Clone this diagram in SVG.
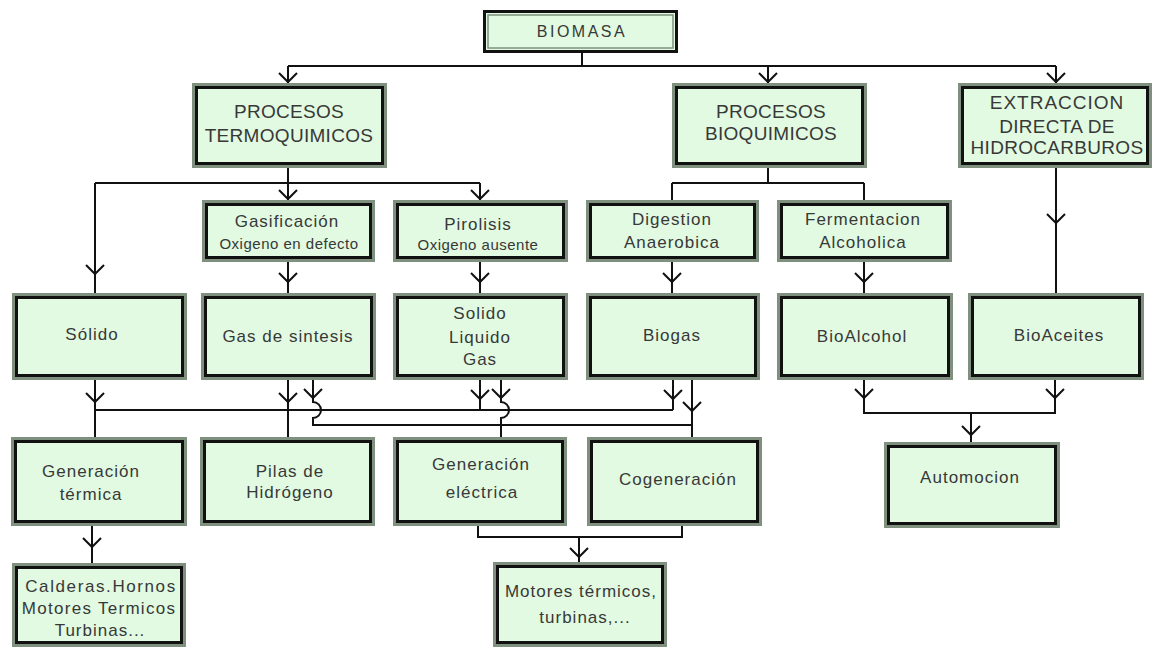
<svg xmlns="http://www.w3.org/2000/svg" width="1153" height="648" viewBox="0 0 1153 648">
<style>
  .bg{fill:#ffffff}
  .o{fill:#e1fae1;stroke:#7f907f;stroke-width:3}
  .i{fill:none;stroke:#111;stroke-width:3}
  .ob{fill:#e1fae1;stroke:#111;stroke-width:3}
  .ig{fill:none;stroke:#7f907f;stroke-width:1.5}
  text{font-family:"Liberation Sans",Arial,sans-serif;fill:#383838;text-anchor:middle}
  .t19{font-size:19px;letter-spacing:0.3px}
  .t16{font-size:16px;letter-spacing:2.5px}
  .t17{font-size:17px;letter-spacing:1px}
  .t15{font-size:15px;letter-spacing:0.5px}
  .c{fill:none;stroke:#111;stroke-width:2}
</style>
<defs>
  <path id="ah" d="M-9,-9 L0,0 L9,-9" fill="none" stroke="#111" stroke-width="2"/>
</defs>
<rect class="bg" x="0" y="0" width="1153" height="648"/>

<g id="connectors">
  <path class="c" d="M582,53 V66 M288,66 H1056 M288,66 V83 M768,66 V83 M1056,66 V83"/>
  <use href="#ah" x="288" y="82"/>
  <use href="#ah" x="768" y="82"/>
  <use href="#ah" x="1056" y="82"/>
  <path class="c" d="M288,168 V200 M95,183 H480 M95,183 V293 M480,183 V200"/>
  <use href="#ah" x="95" y="274"/>
  <use href="#ah" x="288" y="199"/>
  <use href="#ah" x="480" y="199"/>
  <path class="c" d="M768,168 V183 M672,183 H864 M672,183 V200 M864,183 V200"/>
  <path class="c" d="M1056,168 V293"/>
  <use href="#ah" x="1056" y="223"/>
  <path class="c" d="M288,262 V293 M480,262 V293 M672,262 V293 M864,262 V293"/>
  <use href="#ah" x="288" y="282"/>
  <use href="#ah" x="480" y="282"/>
  <use href="#ah" x="672" y="282"/>
  <use href="#ah" x="864" y="282"/>
  <path class="c" d="M95,380 V437 M95,410 H673 M288,380 V437 M480,380 V410 M673,380 V410"/>
  <use href="#ah" x="95" y="402"/>
  <use href="#ah" x="288" y="402"/>
  <use href="#ah" x="480" y="399"/>
  <use href="#ah" x="673" y="399"/>
  <path class="c" d="M313,380 V402 A8,8 0 0 1 313,418 V425 H692"/>
  <path class="c" d="M501,380 V402 A8,8 0 0 1 501,418 V437"/>
  <path class="c" d="M692,380 V437"/>
  <use href="#ah" x="313" y="398"/>
  <use href="#ah" x="501" y="398"/>
  <use href="#ah" x="692" y="411"/>
  <path class="c" d="M864,380 V413 H1055 V380 M971,413 V442"/>
  <use href="#ah" x="864" y="398"/>
  <use href="#ah" x="1055" y="398"/>
  <use href="#ah" x="971" y="435"/>
  <path class="c" d="M92,526 V563"/>
  <use href="#ah" x="92" y="547"/>
  <path class="c" d="M478,526 V537 H682 V526 M579,537 V562"/>
  <use href="#ah" x="579" y="557"/>
</g>

<g id="n-biomasa">
  <rect class="ob" x="484.5" y="11.5" width="192" height="40"/>
  <rect class="ig" x="488" y="15" width="185" height="33"/>
  <text class="t16" x="582" y="37">BIOMASA</text>
</g>

<g id="n-termo">
  <rect class="o" x="193.5" y="84.5" width="192" height="82"/>
  <rect class="i" x="196.5" y="87.5" width="186" height="76"/>
  <text class="t19" x="289" y="118">PROCESOS</text>
  <text class="t19" x="289" y="142">TERMOQUIMICOS</text>
</g>

<g id="n-bioq">
  <rect class="o" x="673.5" y="84.5" width="192" height="82"/>
  <rect class="i" x="676.5" y="87.5" width="186" height="76"/>
  <text class="t19" x="771" y="117.5">PROCESOS</text>
  <text class="t19" x="771" y="140">BIOQUIMICOS</text>
</g>

<g id="n-extr">
  <rect class="o" x="959.5" y="84.5" width="191" height="82"/>
  <rect class="i" x="962.5" y="87.5" width="185" height="76"/>
  <text class="t19" x="1057" y="109" style="letter-spacing:1px">EXTRACCION</text>
  <text class="t19" x="1057" y="132.5">DIRECTA DE</text>
  <text class="t19" x="1057" y="154">HIDROCARBUROS</text>
</g>

<g id="n-gasif">
  <rect class="o" x="203.5" y="201.5" width="170" height="59"/>
  <rect class="i" x="206.5" y="204.5" width="164" height="53"/>
  <text class="t17" x="287" y="226.5">Gasificación</text>
  <text class="t15" x="289" y="249">Oxigeno en defecto</text>
</g>

<g id="n-pirol">
  <rect class="o" x="394.5" y="201.5" width="172" height="59"/>
  <rect class="i" x="397.5" y="204.5" width="166" height="53"/>
  <text class="t17" x="478" y="230">Pirolisis</text>
  <text class="t15" x="478" y="250">Oxigeno ausente</text>
</g>

<g id="n-digest">
  <rect class="o" x="587.5" y="201.5" width="170" height="59"/>
  <rect class="i" x="590.5" y="204.5" width="164" height="53"/>
  <text class="t17" x="672" y="225">Digestion</text>
  <text class="t17" x="672" y="248">Anaerobica</text>
</g>

<g id="n-ferm">
  <rect class="o" x="778.5" y="201.5" width="172" height="59"/>
  <rect class="i" x="781.5" y="204.5" width="166" height="53"/>
  <text class="t17" x="863" y="225">Fermentacion</text>
  <text class="t17" x="863" y="248">Alcoholica</text>
</g>

<g id="n-solido">
  <rect class="o" x="13.5" y="294.5" width="172" height="84"/>
  <rect class="i" x="16.5" y="297.5" width="166" height="78"/>
  <text class="t17" x="92" y="340">Sólido</text>
</g>

<g id="n-gassint">
  <rect class="o" x="202.5" y="294.5" width="172" height="84"/>
  <rect class="i" x="205.5" y="297.5" width="166" height="78"/>
  <text class="t17" x="288" y="342">Gas de sintesis</text>
</g>

<g id="n-slg">
  <rect class="o" x="394.5" y="294.5" width="172" height="84"/>
  <rect class="i" x="397.5" y="297.5" width="166" height="78"/>
  <text class="t17" x="480" y="319">Solido</text>
  <text class="t17" x="480" y="343">Liquido</text>
  <text class="t17" x="480" y="365">Gas</text>
</g>

<g id="n-biogas">
  <rect class="o" x="587.5" y="294.5" width="171" height="84"/>
  <rect class="i" x="590.5" y="297.5" width="165" height="78"/>
  <text class="t17" x="672" y="341">Biogas</text>
</g>

<g id="n-bioalcohol">
  <rect class="o" x="778.5" y="294.5" width="173" height="84"/>
  <rect class="i" x="781.5" y="297.5" width="167" height="78"/>
  <text class="t17" x="862" y="342">BioAlcohol</text>
</g>

<g id="n-bioaceites">
  <rect class="o" x="969.5" y="294.5" width="173" height="84"/>
  <rect class="i" x="972.5" y="297.5" width="167" height="78"/>
  <text class="t17" x="1059" y="341">BioAceites</text>
</g>

<g id="n-gentermica">
  <rect class="o" x="12.5" y="438.5" width="173" height="86"/>
  <rect class="i" x="15.5" y="441.5" width="167" height="80"/>
  <text class="t17" x="91" y="477">Generación</text>
  <text class="t17" x="91" y="500">térmica</text>
</g>

<g id="n-pilas">
  <rect class="o" x="201.5" y="438.5" width="172" height="86"/>
  <rect class="i" x="204.5" y="441.5" width="166" height="80"/>
  <text class="t17" x="290" y="477">Pilas de</text>
  <text class="t17" x="290" y="498">Hidrógeno</text>
</g>

<g id="n-genelectrica">
  <rect class="o" x="394.5" y="438.5" width="171" height="86"/>
  <rect class="i" x="397.5" y="441.5" width="165" height="80"/>
  <text class="t17" x="481" y="470">Generación</text>
  <text class="t17" x="482" y="498">eléctrica</text>
</g>

<g id="n-cogen">
  <rect class="o" x="588.5" y="438.5" width="172" height="86"/>
  <rect class="i" x="591.5" y="441.5" width="166" height="80"/>
  <text class="t17" x="678" y="485">Cogeneración</text>
</g>

<g id="n-automocion">
  <rect class="o" x="885.5" y="443.5" width="173" height="83"/>
  <rect class="i" x="888.5" y="446.5" width="167" height="77"/>
  <text class="t17" x="970" y="483">Automocion</text>
</g>

<g id="n-calderas">
  <rect class="o" x="13.5" y="564.5" width="171" height="81"/>
  <rect class="i" x="16.5" y="567.5" width="165" height="75"/>
  <text class="t17" x="101" y="592" style="letter-spacing:1.6px">Calderas.Hornos</text>
  <text class="t17" x="99" y="614" style="letter-spacing:1.3px">Motores Termicos</text>
  <text class="t17" x="100" y="636">Turbinas...</text>
</g>

<g id="n-motores">
  <rect class="o" x="494.5" y="563.5" width="171" height="82"/>
  <rect class="i" x="497.5" y="566.5" width="165" height="76"/>
  <text class="t17" x="581" y="597">Motores térmicos,</text>
  <text class="t17" x="585" y="623">turbinas,...</text>
</g>
</svg>
